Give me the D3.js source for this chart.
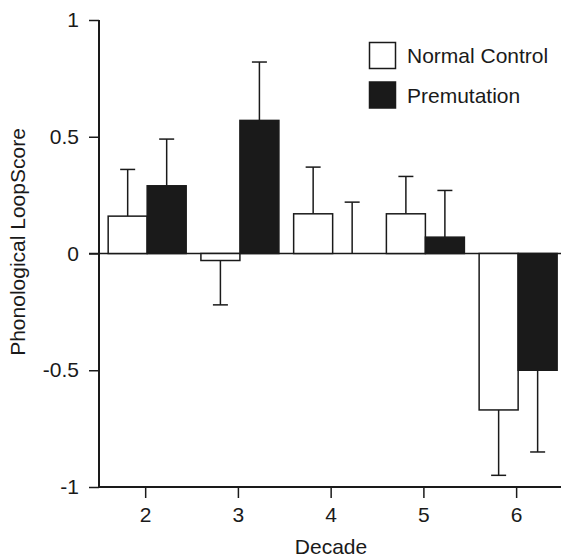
<!DOCTYPE html>
<html>
<head>
<meta charset="utf-8">
<script src="https://cdn.jsdelivr.net/npm/d3@7"></script>
<style>
  body { margin: 0; background: #fff; }
  text { font-family: "Liberation Sans", Arial, sans-serif; fill: #1a1a1a; }
</style>
</head>
<body>
<script>
var decades = ["2", "3", "4", "5", "6"];
var normalMean = [0.16, -0.03, 0.17, 0.17, -0.67];
var normalErr  = [0.20, 0.19, 0.20, 0.16, 0.28];
var premMean   = [0.29, 0.57, 0.00, 0.07, -0.50];
var premErr    = [0.20, 0.25, 0.22, 0.20, 0.35];
var yTicks = [-1, -0.5, 0, 0.5, 1];
var seriesNames = ["Normal Control", "Premutation"];

var width = 561, height = 557;
var ink = "#1a1a1a";
var fs = 21;

var svg = d3.select("body").append("svg")
  .attr("width", width).attr("height", height);

var x = d3.scaleBand().domain(decades).range([99.3, 563]).padding(0);
var y = d3.scaleLinear().domain([-1, 1]).range([487, 20]);

var barW = 39, off = 1.5;

// axes
var yAxis = svg.append("g").attr("transform", "translate(99,0)")
  .call(d3.axisLeft(y).tickValues(yTicks).tickSize(10).tickPadding(10)
    .tickFormat(function (d) { return d === 0 ? "0" : String(d); }));
yAxis.select(".domain").remove();
yAxis.append("line").attr("x1", 0).attr("x2", 0).attr("y1", y(1)).attr("y2", y(-1) + 1)
  .attr("stroke", ink).attr("stroke-width", 2);
yAxis.selectAll(".tick line").attr("stroke", ink).attr("stroke-width", 1.5);
yAxis.selectAll(".tick text").attr("font-size", fs).attr("fill", ink)
  .style("font-family", "'Liberation Sans', Arial, sans-serif");

var xAxis = svg.append("g").attr("transform", "translate(0," + y(-1) + ")")
  .call(d3.axisBottom(x).tickSize(11).tickPadding(9));
xAxis.select(".domain").remove();
xAxis.append("line").attr("x1", 98).attr("x2", width).attr("y1", 0).attr("y2", 0)
  .attr("stroke", ink).attr("stroke-width", 2);
xAxis.selectAll(".tick line").attr("stroke", ink).attr("stroke-width", 1.5).attr("y1", 1);
xAxis.selectAll(".tick text").attr("font-size", fs).attr("fill", ink)
  .style("font-family", "'Liberation Sans', Arial, sans-serif");

// zero line
svg.append("line").attr("x1", 89).attr("x2", width)
  .attr("y1", y(0)).attr("y2", y(0)).attr("stroke", ink).attr("stroke-width", 1.5);

// titles
svg.append("text").attr("x", 331).attr("y", 554).attr("text-anchor", "middle")
  .attr("font-size", fs).text("Decade");
svg.append("text").attr("transform", "translate(25,242) rotate(-90)")
  .attr("text-anchor", "middle").attr("font-size", fs).text("Phonological LoopScore");

function drawSeries(means, errs, fill, shift) {
  var g = svg.append("g");
  var data = decades.map(function (d, i) { return { d: d, m: means[i], e: errs[i] }; });
  var cx = function (r) { return x(r.d) + x.bandwidth() / 2 + off + shift; };
  // error bars (one-sided, away from zero)
  data.forEach(function (r) {
    var xc = cx(r) + barW / 2;
    var tip = r.m >= 0 ? r.m + r.e : r.m - r.e;
    g.append("line").attr("x1", xc).attr("x2", xc).attr("y1", y(r.m)).attr("y2", y(tip))
      .attr("stroke", ink).attr("stroke-width", 1.5);
    g.append("line").attr("x1", xc - 7.5).attr("x2", xc + 7.5).attr("y1", y(tip)).attr("y2", y(tip))
      .attr("stroke", ink).attr("stroke-width", 1.5);
  });
  g.selectAll("rect").data(data.filter(function (r) { return r.m !== 0; })).enter().append("rect")
    .attr("x", cx)
    .attr("width", barW)
    .attr("y", function (r) { return y(Math.max(0, r.m)); })
    .attr("height", function (r) { return Math.abs(y(r.m) - y(0)); })
    .attr("fill", fill).attr("stroke", ink).attr("stroke-width", 1.5);
}
drawSeries(normalMean, normalErr, "#fff", -barW);
drawSeries(premMean, premErr, ink, 0);

// legend
var leg = svg.append("g");
[["#fff", 42.5], [ink, 82]].forEach(function (l, i) {
  leg.append("rect").attr("x", 369.5).attr("y", l[1]).attr("width", 26).attr("height", 26)
    .attr("fill", l[0]).attr("stroke", ink).attr("stroke-width", 1.5);
  leg.append("text").attr("x", 407).attr("y", l[1] + 20.5).attr("font-size", fs).text(seriesNames[i]);
});
</script>
</body>
</html>
